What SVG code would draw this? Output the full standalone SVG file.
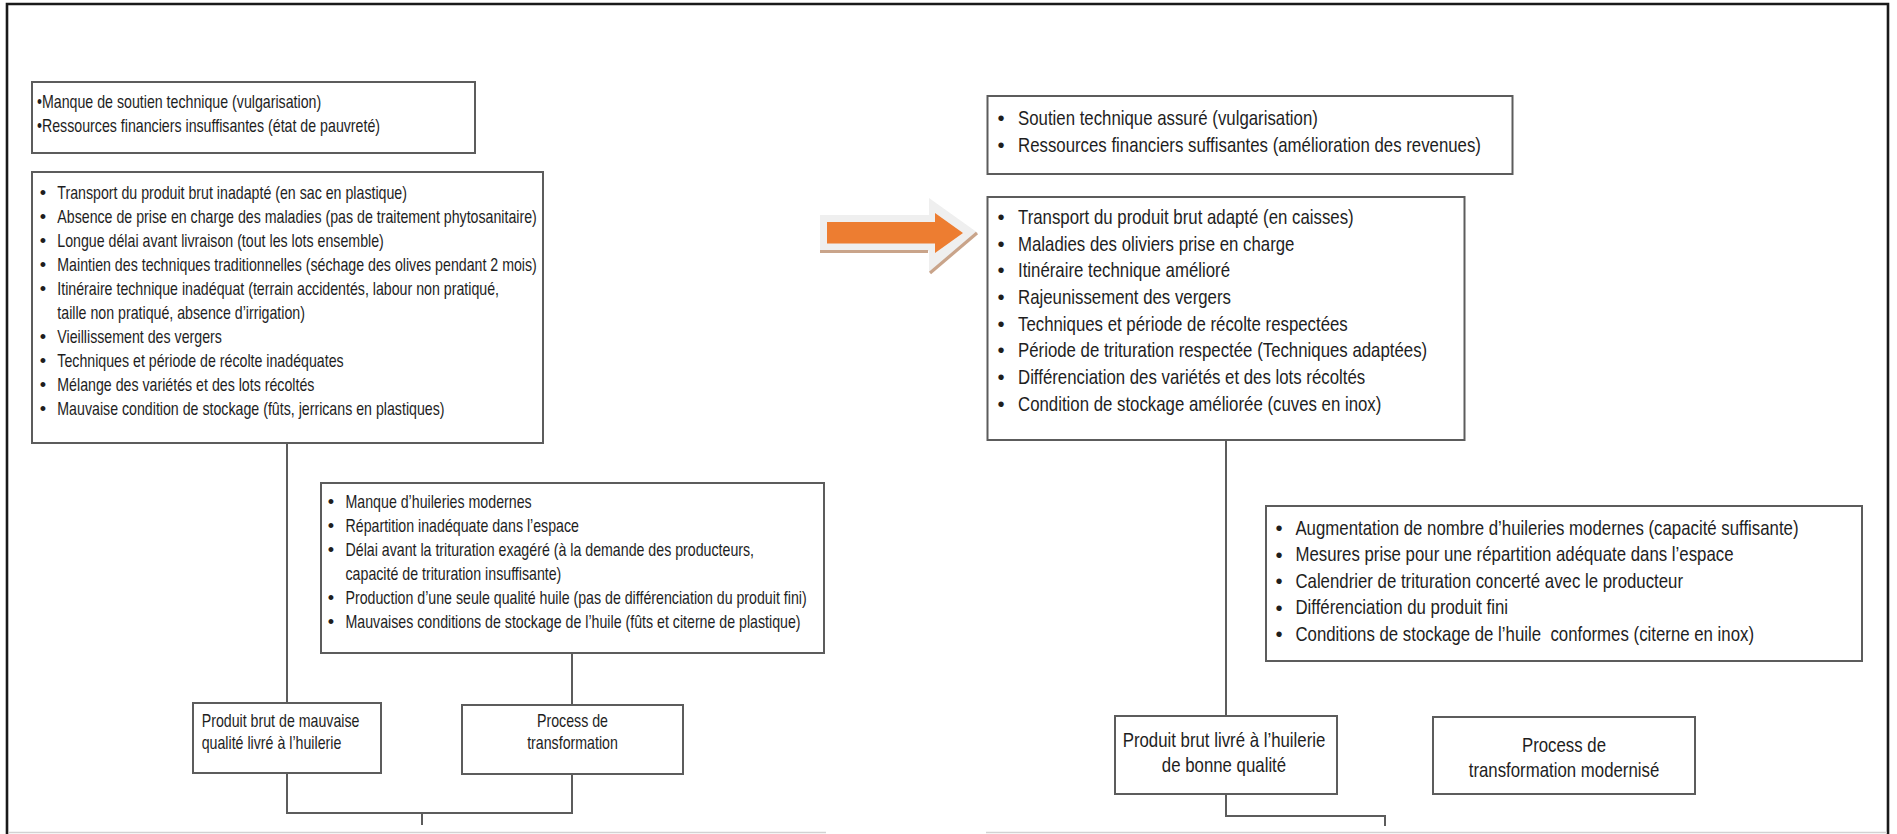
<svg xmlns="http://www.w3.org/2000/svg" width="1897" height="834" viewBox="0 0 1897 834">
  <style>
    .box{fill:#ffffff;stroke:#5c5c5c;stroke-width:2}
    .wire{fill:none;stroke:#5c5c5c;stroke-width:2}
    text{font-family:"Liberation Sans",Arial,Helvetica,sans-serif;fill:#1e1e1e}
    .l{font-size:18.2px}
    .r{font-size:20.2px}
    .c{text-anchor:middle}
  </style>

  <!-- page background and frame -->
  <rect x="0" y="0" width="1897" height="834" fill="#ffffff"/>
  <g id="frame">
    <path d="M7 834 V4 H1888 V834" fill="none" stroke="#1a1a1a" stroke-width="2.6"/>
    <path d="M9 832.5 H826 M986 832.5 H1887" fill="none" stroke="#d2d2d2" stroke-width="1.5"/>
  </g>

  <!-- connectors -->
  <g id="connectors">
    <path class="wire" d="M287 443 V703"/>
    <path class="wire" d="M572 653 V705"/>
    <path class="wire" d="M287 773 V813 H572 V774"/>
    <path class="wire" d="M422 813 V825"/>
    <path class="wire" d="M1226 440 V716"/>
    <path class="wire" d="M1226 794 V816 H1385 V826"/>
  </g>

  <!-- ===== left panel : current situation ===== -->
  <g id="contraintes-generales">
    <rect class="box" x="32" y="82" width="443" height="71"/>
    <g class="l" transform="translate(37 0) scale(0.78 1)">
      <text y="108">•Manque de soutien technique (vulgarisation)</text>
      <text y="132">•Ressources financiers insuffisantes (état de pauvreté)</text>
    </g>
  </g>

  <g id="contraintes-production">
    <rect class="box" x="32" y="172" width="511" height="271"/>
    <g class="l c">
      <text x="43" y="199">•</text>
      <text x="43" y="223">•</text>
      <text x="43" y="247">•</text>
      <text x="43" y="271">•</text>
      <text x="43" y="295">•</text>
      <text x="43" y="343">•</text>
      <text x="43" y="367">•</text>
      <text x="43" y="391">•</text>
      <text x="43" y="415">•</text>
    </g>
    <g class="l" transform="translate(57.3 0) scale(0.78 1)">
      <text y="199">Transport du produit brut inadapté (en sac en plastique)</text>
      <text y="223">Absence de prise en charge des maladies (pas de traitement phytosanitaire)</text>
      <text y="247">Longue délai avant livraison (tout les lots ensemble)</text>
      <text y="271">Maintien des techniques traditionnelles (séchage des olives pendant 2 mois)</text>
      <text y="295">Itinéraire technique inadéquat (terrain accidentés, labour non pratiqué,</text>
      <text y="319">taille non pratiqué, absence d’irrigation)</text>
      <text y="343">Vieillissement des vergers</text>
      <text y="367">Techniques et période de récolte inadéquates</text>
      <text y="391">Mélange des variétés et des lots récoltés</text>
      <text y="415">Mauvaise condition de stockage (fûts, jerricans en plastiques)</text>
    </g>
  </g>

  <g id="contraintes-huilerie">
    <rect class="box" x="321" y="483" width="503" height="170"/>
    <g class="l c">
      <text x="331" y="508">•</text>
      <text x="331" y="532">•</text>
      <text x="331" y="556">•</text>
      <text x="331" y="604">•</text>
      <text x="331" y="628">•</text>
    </g>
    <g class="l" transform="translate(345.5 0) scale(0.78 1)">
      <text y="508">Manque d’huileries modernes</text>
      <text y="532">Répartition inadéquate dans l’espace</text>
      <text y="556">Délai avant la trituration exagéré (à la demande des producteurs,</text>
      <text y="580">capacité de trituration insuffisante)</text>
      <text y="604">Production d’une seule qualité huile (pas de différenciation du produit fini)</text>
      <text y="628">Mauvaises conditions de stockage de l’huile (fûts et citerne de plastique)</text>
    </g>
  </g>

  <g id="produit-brut-mauvais">
    <rect class="box" x="193" y="703" width="188" height="70"/>
    <g class="l" transform="translate(201.7 0) scale(0.78 1)">
      <text y="727">Produit brut de mauvaise</text>
      <text y="749">qualité livré à l’huilerie</text>
    </g>
  </g>

  <g id="process-transformation">
    <rect class="box" x="462" y="705" width="221" height="69"/>
    <g class="l c" transform="translate(572.5 0) scale(0.78 1)">
      <text y="727">Process de</text>
      <text y="749">transformation</text>
    </g>
  </g>

  <!-- transition arrow -->
  <g id="transition-arrow">
    <polygon points="820,215 929,215 929,198 978,233 929,272 929,251 820,251" fill="#efefef"/>
    <path d="M820 251.5 H928 M930 273 L977 233" fill="none" stroke="#c9a48a" stroke-width="3.2"/>
    <polygon points="827,222 935,222 935,213 963,233 935,253 935,243.5 827,243.5" fill="#ed7d31"/>
  </g>

  <!-- ===== right panel : improved situation ===== -->
  <g id="conditions-generales">
    <rect class="box" x="987.5" y="96" width="525" height="78"/>
    <g class="r c">
      <text x="1001" y="125">•</text>
      <text x="1001" y="152">•</text>
    </g>
    <g class="r" transform="translate(1018 0) scale(0.832 1)">
      <text y="125">Soutien technique assuré (vulgarisation)</text>
      <text y="152">Ressources financiers suffisantes (amélioration des revenues)</text>
    </g>
  </g>

  <g id="production-amelioree">
    <rect class="box" x="987.5" y="197" width="477" height="243"/>
    <g class="r c">
      <text x="1001" y="224">•</text>
      <text x="1001" y="250.7">•</text>
      <text x="1001" y="277.3">•</text>
      <text x="1001" y="304">•</text>
      <text x="1001" y="330.7">•</text>
      <text x="1001" y="357.3">•</text>
      <text x="1001" y="384">•</text>
      <text x="1001" y="410.7">•</text>
    </g>
    <g class="r" transform="translate(1018 0) scale(0.832 1)">
      <text y="224">Transport du produit brut adapté (en caisses)</text>
      <text y="250.7">Maladies des oliviers prise en charge</text>
      <text y="277.3">Itinéraire technique amélioré</text>
      <text y="304">Rajeunissement des vergers</text>
      <text y="330.7">Techniques et période de récolte respectées</text>
      <text y="357.3">Période de trituration respectée (Techniques adaptées)</text>
      <text y="384">Différenciation des variétés et des lots récoltés</text>
      <text y="410.7">Condition de stockage améliorée (cuves en inox)</text>
    </g>
  </g>

  <g id="huilerie-modernisee">
    <rect class="box" x="1266" y="506" width="596" height="155"/>
    <g class="r c">
      <text x="1279" y="535">•</text>
      <text x="1279" y="561.5">•</text>
      <text x="1279" y="588">•</text>
      <text x="1279" y="614.5">•</text>
      <text x="1279" y="641">•</text>
    </g>
    <g class="r" transform="translate(1295.4 0) scale(0.832 1)">
      <text y="535">Augmentation de nombre d’huileries modernes (capacité suffisante)</text>
      <text y="561.5">Mesures prise pour une répartition adéquate dans l’espace</text>
      <text y="588">Calendrier de trituration concerté avec le producteur</text>
      <text y="614.5">Différenciation du produit fini</text>
      <text y="641" style="white-space:pre">Conditions de stockage de l’huile  conformes (citerne en inox)</text>
    </g>
  </g>

  <g id="produit-brut-bon">
    <rect class="box" x="1115" y="716" width="222" height="78"/>
    <g class="r c" transform="translate(1224 0) scale(0.832 1)">
      <text y="746.7">Produit brut livré à l’huilerie</text>
      <text y="771.7">de bonne qualité</text>
    </g>
  </g>

  <g id="process-modernise">
    <rect class="box" x="1433" y="717" width="262" height="77"/>
    <g class="r c" transform="translate(1564 0) scale(0.832 1)">
      <text y="751.7">Process de</text>
      <text y="777">transformation modernisé</text>
    </g>
  </g>
</svg>
